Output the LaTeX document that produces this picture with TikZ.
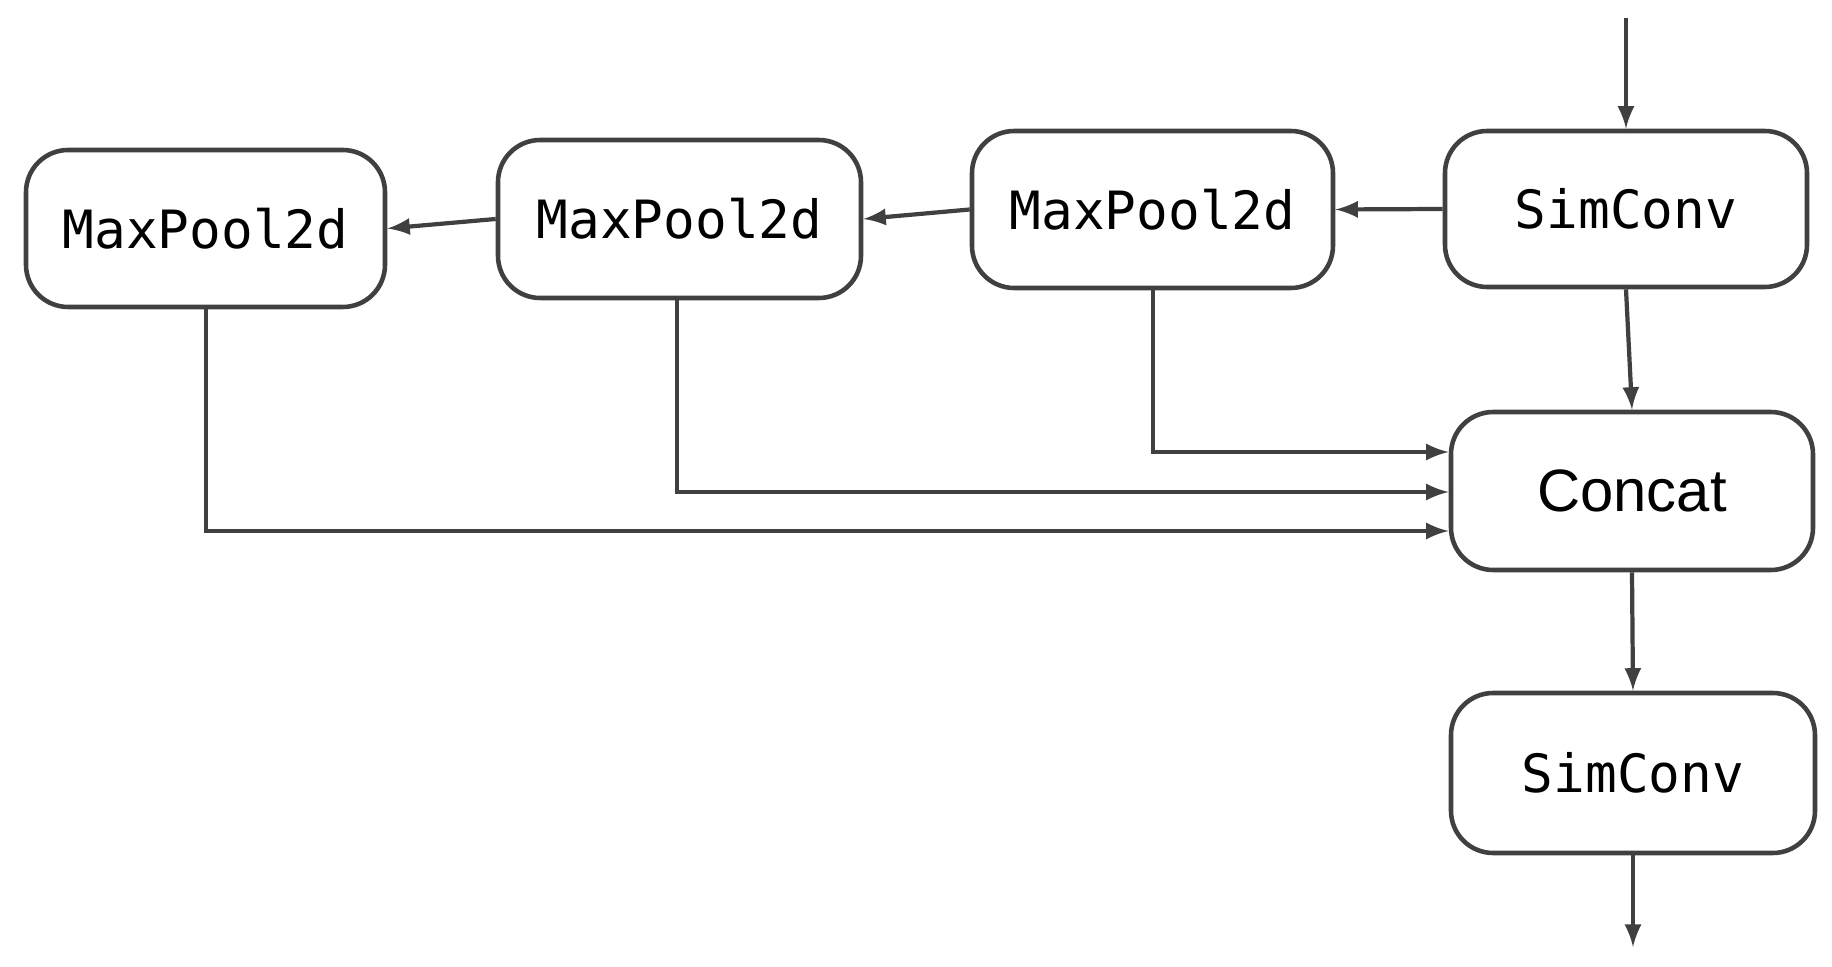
\documentclass[tikz,border=0pt]{standalone}
\usepackage{fontspec}
\setmonofont{DejaVu Sans Mono}
\setsansfont{Liberation Sans}
\begin{document}
\begin{tikzpicture}[x=0.01cm,y=-0.01cm,
  blk/.style={draw=black!75,line width=1.3pt,rounded corners=12pt,fill=white},
  arr/.style={-latex,draw=black!75,line width=1.2pt}]
\useasboundingbox (0,0) rectangle (1832,967);
\newcommand{\bx}[6]{\node[blk,minimum width={(#4-#2)*0.01cm},minimum height={(#5-#3)*0.01cm}] (#1) at ({(#2+#4)/2},{(#3+#5)/2}) {#6};}
\bx{mp1}{26}{150}{385}{307}{\fontsize{15}{18}\selectfont\ttfamily MaxPool2d}
\bx{mp2}{498}{140}{861}{298}{\fontsize{15}{18}\selectfont\ttfamily MaxPool2d}
\bx{mp3}{972}{131}{1333}{288}{\fontsize{15}{18}\selectfont\ttfamily MaxPool2d}
\bx{sc1}{1445}{131}{1807}{287}{\fontsize{15}{18}\selectfont\ttfamily SimConv}
\bx{cat}{1451}{412}{1813}{570}{\fontsize{17}{20}\selectfont\sffamily Concat}
\bx{sc2}{1451}{693}{1815}{853}{\fontsize{15}{18}\selectfont\ttfamily SimConv}
\coordinate (in) at (1626,18);
\coordinate (out) at (1633,947);
\draw[arr] (in) -- (sc1.north);
\draw[arr] (sc1.west) -- (mp3.east);
\draw[arr] (mp3.west) -- (mp2.east);
\draw[arr] (mp2.west) -- (mp1.east);
\draw[arr] (sc1.south) -- (cat.north);
\draw[arr] (cat.south) -- (sc2.north);
\draw[arr] (sc2.south) -- (out);
\draw[arr] (mp3.south -| 1153,0) -- (1153,452) -- (cat.west |- 0,452);
\draw[arr] (mp2.south -| 677,0) -- (677,492) -- (cat.west |- 0,492);
\draw[arr] (mp1.south -| 206,0) -- (206,531) -- (cat.west |- 0,531);
\end{tikzpicture}
\end{document}
